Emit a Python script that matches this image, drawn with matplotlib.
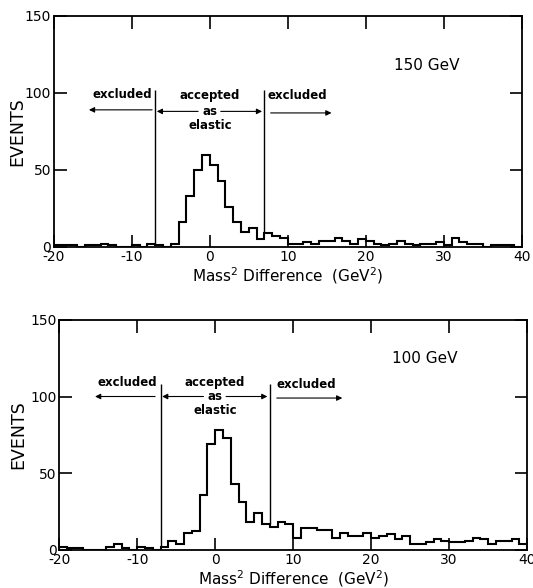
import numpy as np
import matplotlib
matplotlib.use("Agg")
import matplotlib.pyplot as plt

plt.rcParams["axes.unicode_minus"] = False
plt.rcParams["font.family"] = "DejaVu Sans"

# bin edges of the mass^2 difference histogram (GeV^2)
edges = np.arange(-20, 41, 1)

# events per bin, 150 GeV beam
counts_150 = [1, 1, 1, 0, 1, 1, 2, 1, 0, 0,
              1, 0, 2, 1, 0, 2, 16, 33, 50, 60,
              53, 43, 26, 16, 10, 12, 5, 9, 7, 6,
              2, 2, 3, 2, 4, 4, 6, 4, 2, 5,
              4, 2, 1, 2, 4, 2, 1, 2, 2, 3,
              1, 6, 3, 2, 2, 0, 1, 1, 1, 0]

# events per bin, 100 GeV beam
counts_100 = [2, 1, 1, 0, 0, 0, 2, 4, 1, 0,
              2, 1, 0, 2, 6, 4, 11, 12, 36, 69,
              78, 73, 43, 31, 18, 24, 17, 15, 18, 17,
              8, 14, 14, 13, 13, 8, 11, 9, 9, 11,
              8, 9, 10, 7, 9, 4, 4, 5, 7, 6,
              5, 5, 6, 8, 7, 4, 6, 6, 7, 4]

cut_lo, cut_hi = -7, 7
x_ticks = [-20, -10, 0, 10, 20, 30, 40]
y_ticks = [0, 50, 100, 150]


def panel(ax, counts, label, lab_pos, ytext, yarrow, xexc, top, ylab_x):
    ax.stairs(counts, edges, color="black", lw=1.5)

    # cut lines go from the histogram top up to 'top'
    for xc in (cut_lo, cut_hi):
        i = list(edges).index(xc)
        low = max(counts[i - 1], counts[i])
        ax.vlines(xc, low, top, color="black", lw=1.0)

    kw = dict(ha="center", va="center", fontsize=8.5, fontweight="bold")
    arrow = dict(arrowstyle="-|>", color="black", lw=0.8, mutation_scale=8,
                 shrinkA=0, shrinkB=0)

    # left excluded
    ax.text(xexc[0], ytext[0], "excluded", **kw)
    ax.annotate("", xy=(xexc[1], yarrow[0]), xytext=(xexc[2], yarrow[0]),
                arrowprops=arrow)
    # accepted as elastic
    ax.text(0, ytext[1], "accepted", **kw)
    ax.text(0, yarrow[1], "as", **kw)
    ax.text(0, yarrow[1] - 9, "elastic", **kw)
    ax.annotate("", xy=(-6.8, yarrow[1]), xytext=(-1.5, yarrow[1]),
                arrowprops=arrow)
    ax.annotate("", xy=(6.7, yarrow[1]), xytext=(1.4, yarrow[1]),
                arrowprops=arrow)
    # right excluded
    ax.text(xexc[3], ytext[2], "excluded", **kw)
    ax.annotate("", xy=(xexc[5], yarrow[2]), xytext=(xexc[4], yarrow[2]),
                arrowprops=arrow)

    ax.text(lab_pos[0], lab_pos[1], label, ha="center", va="center",
            fontsize=11)

    ax.set_xlim(-20, 40)
    ax.set_ylim(0, 150)
    ax.set_xticks(x_ticks)
    ax.set_yticks(y_ticks)
    ax.tick_params(direction="in", top=True, right=True, length=9,
                   width=1.2, labelsize=10, pad=2)
    for s in ax.spines.values():
        s.set_linewidth(1.3)
    ax.set_ylabel("EVENTS", fontsize=12.5)
    ax.yaxis.set_label_coords(ylab_x, 0.5)
    ax.set_xlabel(r"Mass$^2$ Difference  (GeV$^2$)", fontsize=11, labelpad=1)


fig = plt.figure(figsize=(5.33, 5.88), dpi=100)

ax1 = fig.add_axes([0.101, 0.580, 0.878, 0.393])
panel(ax1, counts_150, "150 GeV", (27.8, 118), (99, 98, 98), (89, 88, 87),
      (-11.2, -15.5, -7.4, 11.2, 7.8, 15.6), 102, -0.058)

ax2 = fig.add_axes([0.111, 0.065, 0.878, 0.391])
panel(ax2, counts_100, "100 GeV", (26.9, 125), (109, 109, 108), (100, 100, 99),
      (-11.3, -15.4, -7.7, 11.7, 7.9, 16.3), 108, -0.068)

fig.savefig("out.png", dpi=100)
